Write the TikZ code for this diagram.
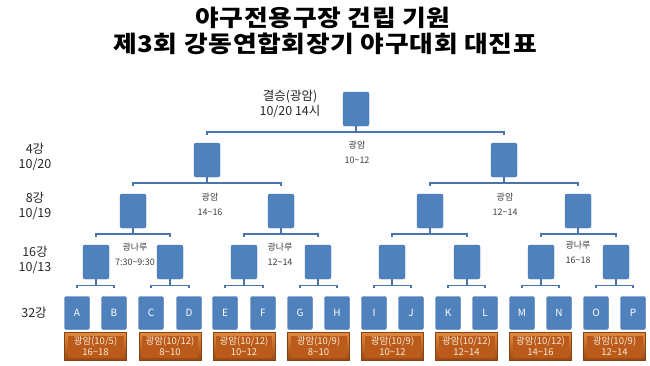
\documentclass[tikz,border=0pt]{standalone}
\usepackage{fontspec}
\setmainfont{Noto Sans CJK KR}
\newfontfamily\headfont[FakeStretch=1.12, LetterSpace=3]{Noto Sans CJK KR}
\definecolor{teamblue}{HTML}{4F81BD}
\definecolor{teamedge}{HTML}{4672AA}
\definecolor{wireblue}{HTML}{4A74AE}
\definecolor{venuetop}{HTML}{E38B3E}
\definecolor{venuebot}{HTML}{9C4812}
\definecolor{venuemid}{HTML}{BA5B1B}
\definecolor{venueedge}{HTML}{8A4211}
\definecolor{venuetext}{HTML}{FBE8D2}
\definecolor{notegray}{HTML}{404040}
\newcommand{\tilda}{\textasciitilde}
\tikzset{
    team/.style={draw=teamedge, fill=teamblue, rounded corners=2pt, minimum width=25pt, minimum height=33pt, inner sep=0pt, text=white, font=\fontsize{10}{11}\selectfont},
    game/.style={team, minimum width=26pt, minimum height=34pt},
    venue/.style={draw=venueedge, top color=venuetop, bottom color=venuebot, minimum width=62pt, minimum height=28pt, inner sep=0pt, text=venuetext, align=center, font=\fontsize{9.5}{10.5}\selectfont,
        path picture={\fill[venuemid] ([shift={(3pt,-4pt)}]path picture bounding box.north west) rectangle ([shift={(-3pt,2pt)}]path picture bounding box.south east);}},
    wire/.style={draw=wireblue, line width=1.6pt},
    note/.style={text=notegray, align=center, font=\fontsize{9}{15}\selectfont},
    roundlabel/.style={text=black!85, align=center, font=\fontsize{12.5}{15}\selectfont},
    headline/.style={font=\headfont\fontsize{23}{25}\selectfont\bfseries}
}
\begin{document}
\begin{tikzpicture}[x=1pt, y=-1pt]
    \useasboundingbox (0,0) rectangle (650,365);
    % title
    \node[headline] (head1) at (323,18) {야구전용구장 건립 기원};
    \node[headline] (head2) at (325,44) {제3회 강동연합회장기 야구대회 대진표};
    % rounds on the left
    \node[roundlabel] (r4) at (35,157) {4강\\10/20};
    \node[roundlabel] (r8) at (35,206) {8강\\10/19};
    \node[roundlabel] (r16) at (35,260) {16강\\10/13};
    \node[roundlabel] (r32) at (34,313) {32강};
    % boxes
    \node[game] (fin) at (356,109) {};
    \node[roundlabel] (finlabel) at (290,104) {결승(광암)\\10/20 14시};
    \node[game] (q1) at (207,160) {};
    \node[game] (q2) at (504,160) {};
    \foreach \n/\x in {e1/133, e2/281, e3/430, e4/578}
        \node[game] (\n) at (\x,211) {};
    \foreach \n/\x in {s1/96, s2/170, s3/244, s4/318, s5/392, s6/467, s7/541, s8/616}
        \node[game] (\n) at (\x,262) {};
    \foreach \t/\x in {A/77, B/114, C/151, D/189, E/225, F/263, G/300, H/337,
                       I/374, J/411, K/448, L/485, M/522, N/559, O/596, P/633}
        \node[team] (\t) at (\x,313) {\t};
    % brackets
    \foreach \p/\a/\b in {fin/q1/q2, q1/e1/e2, q2/e3/e4, e1/s1/s2, e2/s3/s4, e3/s5/s6, e4/s7/s8,
                          s1/A/B, s2/C/D, s3/E/F, s4/G/H, s5/I/J, s6/K/L, s7/M/N, s8/O/P} {
        \coordinate (\a-j) at ([yshift=11pt]\a.north);
        \coordinate (\b-j) at ([yshift=11pt]\b.north);
        \draw[wire] ([yshift=8pt]\a.north) -- (\a-j) -- (\b-j) -- ([yshift=8pt]\b.north);
        \draw[wire] (\p.south) -- (\p.south |- \a-j);
    }
    % grounds and times
    \node[note] (n0) at (357,152) {광암\\10\tilda12};
    \node[note] (n1) at (210,204) {광암\\14\tilda16};
    \node[note] (n2) at (505,204) {광암\\12\tilda14};
    \node[note] (n3) at (135,254) {광나루\\7:30\tilda9:30};
    \node[note] (n4) at (280,254) {광나루\\12\tilda14};
    \node[note] (n5) at (578,252) {광나루\\16\tilda18};
    % first round venues
    \node[venue] (v1) at (95.5,346) {광암(10/5)\\16\tilda18};
    \node[venue] (v2) at (170,346) {광암(10/12)\\8\tilda10};
    \node[venue] (v3) at (244,346) {광암(10/12)\\10\tilda12};
    \node[venue] (v4) at (318.5,346) {광암(10/9)\\8\tilda10};
    \node[venue] (v5) at (392.5,346) {광암(10/9)\\10\tilda12};
    \node[venue] (v6) at (466.5,346) {광암(10/12)\\12\tilda14};
    \node[venue] (v7) at (540.5,346) {광암(10/12)\\14\tilda16};
    \node[venue] (v8) at (614.5,346) {광암(10/9)\\12\tilda14};
\end{tikzpicture}
\end{document}
